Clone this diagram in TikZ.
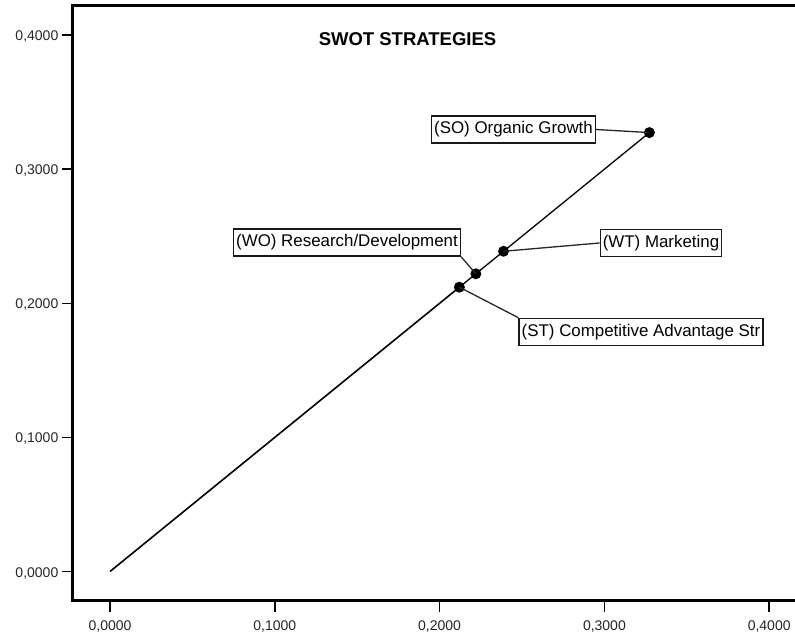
\documentclass[tikz,border=0pt]{standalone}
\usepackage{fontspec}
\setmainfont{Liberation Sans}
\begin{document}
\begin{tikzpicture}[x=1pt,y=1pt,
  axis/.style={line width=3pt,line cap=rect},
  tick/.style={line width=1.6pt},
  ticklabel/.style={font=\fontsize{14}{16}\selectfont,text=black!85,inner sep=0pt},
  dot/.style={circle,fill=black,inner sep=0pt,minimum size=11pt},
  curve/.style={line width=1.6pt},
  leader/.style={line width=1.3pt,black!85},
  tag/.style={draw=black!90,line width=1.5pt,fill=white,inner xsep=2.5pt,inner ysep=0pt,
    minimum height=27pt,font=\fontsize{16.9}{18}\selectfont}]
\useasboundingbox (0,0) rectangle (795,635);

% frame of the plot area
\draw[axis] (795,629.5) -- (72.5,629.5) -- (72.5,35) -- (795,35);

% vertical axis ticks and labels
\foreach \v/\t in {0/{0,0000}, 0.1/{0,1000}, 0.2/{0,2000}, 0.3/{0,3000}, 0.4/{0,4000}} {
  \pgfmathsetmacro{\yy}{63.5+1341*\v}
  \draw[tick] (62,\yy) -- (72.5,\yy);
  \node[ticklabel,anchor=base east] at (58.5,\yy-5.5) {\t};
}
% horizontal axis ticks and labels
\foreach \v/\t in {0/{0,0000}, 0.1/{0,1000}, 0.2/{0,2000}, 0.3/{0,3000}, 0.4/{0,4000}} {
  \pgfmathsetmacro{\xx}{110+1648*\v}
  \draw[tick] (\xx,35) -- (\xx,23);
  \node[ticklabel,anchor=base] at (\xx,5) {\t};
}

% title
\node[anchor=base,font=\fontsize{18.5}{20}\selectfont\bfseries] (title) at (407.5,589) {SWOT STRATEGIES};

% data points
\begin{scope}[shift={(110pt,63.5pt)},x=1648pt,y=1341pt]
  \coordinate (o) at (0,0);
  \node[dot] (st) at (0.212,0.212) {};
  \node[dot] (wo) at (0.222,0.222) {};
  \node[dot] (wt) at (0.2388,0.2388) {};
  \node[dot] (so) at (0.3273,0.3273) {};
\end{scope}

\draw[curve] (o) -- (st.center);
\draw[curve,line width=1.3pt] (st.center) -- (wo.center) -- (wt.center) -- (so.center);

% labels
\node[tag] (sob) at (513.5,505.5) {(SO) Organic Growth};
\node[tag] (wob) at (347,392.5) {(WO) Research/Development};
\node[tag] (wtb) at (661,392) {(WT) Marketing};
\node[tag] (stb) at (641,303) {(ST) Competitive Advantage Str};

\draw[leader] (sob.east) -- (so.center);
\draw[leader] (wob.south east) -- (wo.center);
\draw[leader] (wtb.west) -- (wt.center);
\draw[leader] (stb.north west) -- (st.center);
\end{tikzpicture}
\end{document}
